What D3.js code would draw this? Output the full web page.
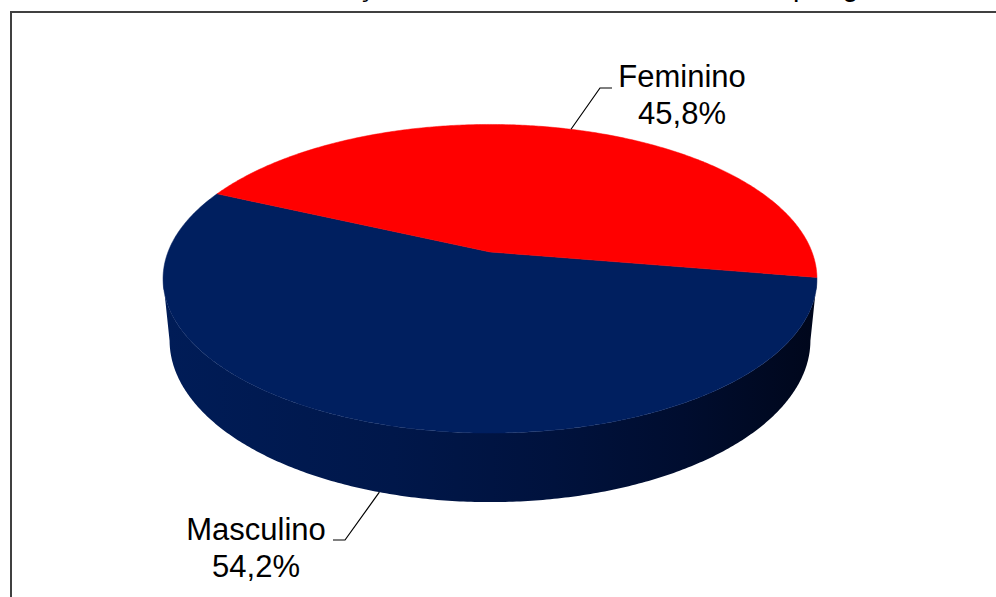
<!DOCTYPE html>
<html>
<head>
<meta charset="utf-8">
<script src="https://cdn.jsdelivr.net/npm/d3@7"></script>
<style>
  body { margin: 0; background: #fff; }
  svg { display: block; font-family: Arial, "Liberation Sans", sans-serif; }
</style>
</head>
<body>
<div id="chart"></div>
<script>
// data
var categories = ["Masculino", "Feminino"];
var percents = [54.2, 45.8];
var topColors = ["#001F5F", "#FF0000"];
var titleText = "Distribuição dos estudantes entrevistados por gênero";

var width = 996, height = 597;

// pt-BR number format (comma decimal)
var fmt = d3.formatLocale({decimal: ",", thousands: ".", grouping: [3], currency: ["", ""]}).format(".1f");

var svg = d3.select("#chart").append("svg")
    .attr("width", width)
    .attr("height", height);

// title, cut off at the top of the picture (only descenders show)
svg.append("text")
    .attr("x", 254)
    .attr("y", -4)
    .attr("font-size", 28.7)
    .attr("fill", "#000")
    .text(titleText);

// chart frame (runs off the right and bottom edges)
svg.append("rect")
    .attr("x", 11).attr("y", 12)
    .attr("width", 1000).attr("height", 620)
    .attr("fill", "none")
    .attr("stroke", "#404040")
    .attr("stroke-width", 2);

// 3D pie projection: disc of radius R tilted by theta, seen in perspective
var cx = 490, cy = 252, R = 322, H = 70, D = 1643;
var theta = 27.7 * Math.PI / 180;
var sinT = Math.sin(theta), cosT = Math.cos(theta);
var phi0 = 9.5 * Math.PI / 180; // where the first slice starts (0 = right, +90deg = front)

function proj(phi, h) {
    var x = R * Math.cos(phi), z = R * Math.sin(phi);
    var sy = z * sinT - h * cosT;
    var d = z * cosT + h * sinT;
    var s = D / (D - d);
    return [cx + x * s, cy + sy * s];
}

function rim(a, b, h) {
    var n = Math.max(2, Math.ceil(Math.abs(b - a) / 0.01));
    return d3.range(n + 1).map(function (i) { return proj(a + (b - a) * i / n, h); });
}

var pie = d3.pie().sort(null).value(function (d) { return d; });
var arcs = pie(percents).map(function (d, i) {
    return {
        name: categories[i],
        value: d.value,
        color: topColors[i],
        a0: phi0 + d.startAngle,
        a1: phi0 + d.endAngle
    };
});

// side wall shading
var defs = svg.append("defs");
var grad = defs.append("linearGradient")
    .attr("id", "wall")
    .attr("gradientUnits", "userSpaceOnUse")
    .attr("x1", cx - R).attr("y1", 0)
    .attr("x2", cx + R).attr("y2", 0);
[[0, "#001C57"], [0.35, "#00174A"], [0.6, "#00123D"], [0.8, "#000D2F"], [1, "#00071C"]]
    .forEach(function (s) { grad.append("stop").attr("offset", s[0]).attr("stop-color", s[1]); });

var line = d3.line();
var silA = Math.asin(R * cosT / D), silB = Math.PI - silA;

var g = svg.append("g");

// walls (front-facing part only)
arcs.forEach(function (s) {
    [0, 2 * Math.PI].forEach(function (off) {
        var a = Math.max(s.a0, silA + off), b = Math.min(s.a1, silB + off);
        if (b <= a) return;
        var pts = rim(a, b, 0).concat(rim(b, a, -H));
        g.append("path")
            .attr("d", line(pts) + "Z")
            .attr("fill", s.name === "Masculino" ? "url(#wall)" : "#7a0000");
    });
});

// top faces
arcs.forEach(function (s) {
    var pts = [[cx, cy]].concat(rim(s.a0, s.a1, 0));
    g.append("path")
        .attr("d", line(pts) + "Z")
        .attr("fill", s.color)
        .attr("stroke", s.color)
        .attr("stroke-width", 0.5);
});

// labels with leader lines
var labelPos = {
    "Feminino": {x: 682, y: 87, elbow: [[612, 88], [600, 88]], h: 0},
    "Masculino": {x: 256, y: 540, elbow: [[333, 540], [345, 540]], h: -H}
};

arcs.forEach(function (s) {
    var p = labelPos[s.name];
    var mid = (s.a0 + s.a1) / 2;
    var anchor = proj(mid, p.h);
    svg.append("path")
        .attr("d", line(p.elbow.concat([anchor])))
        .attr("fill", "none")
        .attr("stroke", "#000")
        .attr("stroke-width", 1.2);
    var t = svg.append("text")
        .attr("text-anchor", "middle")
        .attr("font-size", 31)
        .attr("fill", "#000");
    t.append("tspan").attr("x", p.x).attr("y", p.y).text(s.name);
    t.append("tspan").attr("x", p.x).attr("y", p.y + 37).text(fmt(s.value) + "%");
});
</script>
</body>
</html>
